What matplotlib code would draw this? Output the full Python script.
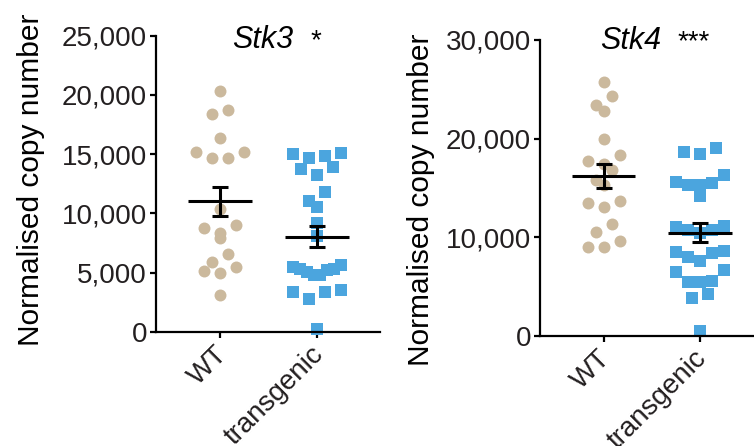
import matplotlib
matplotlib.use("Agg")
import matplotlib.pyplot as plt
import matplotlib.transforms as mtransforms
import numpy as np
from matplotlib.ticker import FuncFormatter

plt.rcParams['font.family'] = ['Liberation Sans', 'DejaVu Sans']

# values
groups = ['WT', 'transgenic']

stk3_wt = [20300, 18350, 18700, 16400, 15200, 14700, 14700, 15200, 10350, 8800,
           7950, 8350, 9050, 5850, 5100, 5000, 5500, 6550, 3100]
stk3_tg = [14650, 15100, 14850, 15050, 13700, 13250, 13950, 11800, 10550, 11000,
           9200, 8100, 5300, 5500, 5650, 5300, 5050, 4800, 4800, 5200,
           3500, 3350, 2750, 3350, 250]
stk4_wt = [25750, 24350, 23400, 22800, 19950, 18300, 17750, 17450, 16800, 15800,
           15300, 13500, 13100, 13700, 11400, 10550, 9600, 9000, 9000]
stk4_tg = [18650, 18450, 19050, 16350, 15500, 15300, 15300, 15600, 14200, 11100,
           10750, 10450, 10750, 11000, 8550, 8450, 8650, 7650, 8050, 6500,
           6700, 5500, 5500, 5600, 4300, 3900, 550]

# mean and SEM as shown by the bars
stk3_mean = [11010, 8020]
stk3_sem = [1240, 870]
stk4_mean = [16190, 10470]
stk4_sem = [1200, 960]

stk3_ticks = [0, 5000, 10000, 15000, 20000, 25000]
stk4_ticks = [0, 10000, 20000, 30000]

wt_color = '#CBB99D'
tg_color = '#4BA5DE'
text_color = '#231F20'

W, H = 754, 446
fig = plt.figure(figsize=(W / 100, H / 100), dpi=100)


def px_box(x0, y0, x1, y1):
    # pixel box (top-left origin) -> figure fraction rect
    return [x0 / W, 1 - y1 / H, (x1 - x0) / W, (y1 - y0) / H]


ax1 = fig.add_axes(px_box(156, 35.7, 380, 331.7))
ax2 = fig.add_axes(px_box(540, 40, 762.5, 336))


def swarm(ax, xc, values, bin_h=12, step=16, max_w=48):
    # Prism-like scatter: points close in y share a row, centred on the group
    vals = np.asarray(values, float)
    ys = ax.transData.transform(np.column_stack([np.full(len(vals), xc), vals]))[:, 1]
    order = np.argsort(-ys)
    rows, cur = [], [order[0]]
    for i in order[1:]:
        if ys[cur[0]] - ys[i] <= bin_h:
            cur.append(i)
        else:
            rows.append(cur)
            cur = [i]
    rows.append(cur)
    offs = np.zeros(len(vals))
    for row in rows:
        n = len(row)
        sp = step if n < 2 else min(step, max_w / (n - 1))
        pos = (np.arange(n) - (n - 1) / 2) * sp
        pos = pos[np.argsort(np.abs(pos), kind='stable')]
        lowest_first = sorted(row, key=lambda k: ys[k])
        for k, p in zip(lowest_first, pos):
            offs[k] = p
    p0 = ax.transData.transform((0, 0))[0]
    p1 = ax.transData.transform((1, 0))[0]
    return xc + offs / (p1 - p0)


def panel(ax, wt, tg, means, sems, ymax, ticks):
    ax.set_xlim(-0.66, 1.65)
    ax.set_ylim(0, ymax)
    ms = 8.6
    xw = swarm(ax, 0, wt)
    xt = swarm(ax, 1, tg)
    ax.scatter(xw, wt, s=ms ** 2, marker='o', color=wt_color, linewidths=0,
               clip_on=False, zorder=2)
    ax.scatter(xt, tg, s=ms ** 2, marker='s', color=tg_color, linewidths=0,
               clip_on=False, zorder=2)
    for i in range(2):
        ax.plot([i - 0.33, i + 0.33], [means[i], means[i]], color='black', lw=2.2,
                solid_capstyle='butt', zorder=3)
    ax.errorbar([0, 1], means, yerr=sems, fmt='none', ecolor='black', elinewidth=2.2,
                capsize=5.5, capthick=2.2, zorder=3)

    for s in ['top', 'right']:
        ax.spines[s].set_visible(False)
    for s in ['left', 'bottom']:
        ax.spines[s].set_linewidth(1.6)
    ax.set_yticks(ticks)
    ax.yaxis.set_major_formatter(FuncFormatter(lambda v, p: f'{int(v):,}'))
    ax.set_xticks([0, 1])
    ax.set_xticklabels(groups, rotation=45, ha='right', va='top', rotation_mode='anchor')
    ax.tick_params(axis='y', length=4.5, width=1.6, labelsize=20, pad=2,
                   labelcolor=text_color)
    ax.tick_params(axis='x', length=4, width=1.6, labelsize=20, pad=5,
                   labelcolor=text_color)
    shift = mtransforms.ScaledTranslation(-6 / 100, 3 / 100, fig.dpi_scale_trans)
    for lab in ax.get_xticklabels():
        lab.set_transform(lab.get_transform() + shift)


panel(ax1, stk3_wt, stk3_tg, stk3_mean, stk3_sem, 25000, stk3_ticks)
panel(ax2, stk4_wt, stk4_tg, stk4_mean, stk4_sem, 30000, stk4_ticks)

# titles and significance marks
fig.text(232 / W, 1 - 48 / H, 'Stk3', fontsize=22, style='italic', color='black',
         ha='left', va='baseline')
fig.text(311 / W, 1 - 48 / H, '*', fontsize=20, color='black', ha='left', va='baseline')
fig.text(600 / W, 1 - 49 / H, 'Stk4', fontsize=22, style='italic', color='black',
         ha='left', va='baseline')
fig.text(678 / W, 1 - 49 / H, '***', fontsize=20, color='black', ha='left', va='baseline')

# y labels
fig.text(31 / W, 1 - 180 / H, 'Normalised copy number', fontsize=21.5, rotation=90,
         ha='center', va='center', color='black')
fig.text(421 / W, 1 - 200 / H, 'Normalised copy number', fontsize=21.5, rotation=90,
         ha='center', va='center', color='black')

fig.savefig('out.png', dpi=100)
